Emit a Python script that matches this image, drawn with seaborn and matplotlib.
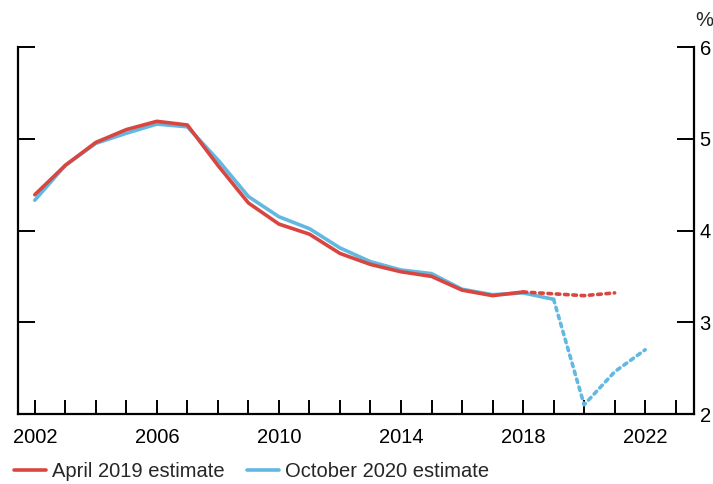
import matplotlib
matplotlib.use("Agg")
import matplotlib.pyplot as plt
import seaborn as sns
import pandas as pd

years_apr = list(range(2002, 2022))
apr_2019 = [4.39, 4.71, 4.96, 5.10, 5.19, 5.15, 4.71, 4.30, 4.07, 3.96,
            3.75, 3.63, 3.55, 3.50, 3.35, 3.29, 3.33, 3.31, 3.29, 3.32]
apr_last_actual = 2018

years_oct = list(range(2002, 2023))
oct_2020 = [4.33, 4.71, 4.95, 5.06, 5.16, 5.13, 4.77, 4.37, 4.15, 4.02,
            3.81, 3.66, 3.57, 3.53, 3.36, 3.30, 3.32, 3.25, 2.10, 2.46, 2.70]
oct_last_actual = 2019

series_labels = ["April 2019 estimate", "October 2020 estimate"]
x_tick_labels = [2002, 2006, 2010, 2014, 2018, 2022]
y_ticks = [2, 3, 4, 5, 6]

RED = "#d9463f"
BLUE = "#62b8e0"

sns.set_theme(style="white")
plt.rcParams["font.family"] = ["Liberation Sans", "DejaVu Sans"]

fig = plt.figure(figsize=(7.13, 4.84), dpi=100)
ax = fig.add_axes([18 / 713, 1 - 414 / 484, (694 - 18) / 713, (414 - 47) / 484])

df_apr = pd.DataFrame({"year": years_apr, "value": apr_2019})
df_oct = pd.DataFrame({"year": years_oct, "value": oct_2020})

lw = 2.6
dots = (0, (1, 1.3))
# Order: blue beneath red
sns.lineplot(data=df_oct[df_oct.year <= oct_last_actual], x="year", y="value",
             ax=ax, color=BLUE, lw=lw, label=series_labels[1])
sns.lineplot(data=df_oct[df_oct.year >= oct_last_actual], x="year", y="value",
             ax=ax, color=BLUE, lw=lw, linestyle=dots, dash_capstyle="round")
sns.lineplot(data=df_apr[df_apr.year <= apr_last_actual], x="year", y="value",
             ax=ax, color=RED, lw=lw, label=series_labels[0])
sns.lineplot(data=df_apr[df_apr.year >= apr_last_actual], x="year", y="value",
             ax=ax, color=RED, lw=lw, linestyle=dots, dash_capstyle="round")

ax.set_xlim(2001.45, 2023.6)
ax.set_ylim(2, 6)
ax.set_xlabel("")
ax.set_ylabel("")

all_years = list(range(2002, 2024))
ax.set_xticks(all_years)
ax.set_xticklabels([str(y) if y in x_tick_labels else "" for y in all_years])
ax.set_yticks(y_ticks)
ax.set_yticklabels([str(v) for v in y_ticks])

FS = 14.5
ax.tick_params(axis="x", direction="in", length=10, width=1.4, bottom=True,
               labelsize=FS, pad=10, colors="black")
ax.tick_params(axis="y", direction="in", length=12, width=1.4, left=True, right=True,
               labelleft=False, labelright=True, labelsize=FS, pad=4, colors="black")

for side in ["left", "right", "bottom"]:
    ax.spines[side].set_visible(True)
    ax.spines[side].set_color("black")
    ax.spines[side].set_linewidth(1.6)
ax.spines["top"].set_visible(False)
ax.grid(False)

fig.text(695 / 713, 1 - 20 / 484, "%", fontsize=FS, ha="left", va="center")

ax.get_legend().remove()
handles, labels = ax.get_legend_handles_labels()
order = [labels.index(series_labels[0]), labels.index(series_labels[1])]
fig.legend([handles[i] for i in order], [labels[i] for i in order],
           loc="lower left", bbox_to_anchor=(0.0, -0.022), ncol=2, frameon=False,
           fontsize=FS, handlelength=1.6, handletextpad=0.3, columnspacing=1.1,
           borderaxespad=0.3)

fig.savefig("out.png", dpi=100)
